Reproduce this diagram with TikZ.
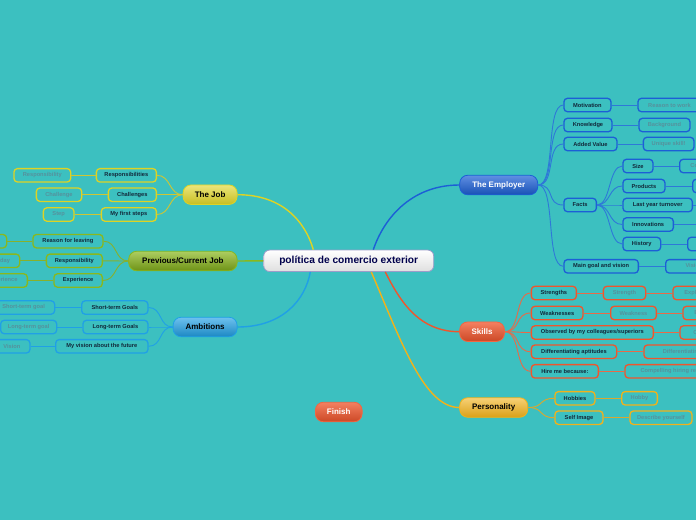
\documentclass[tikz,border=0pt]{standalone}
\usepackage{fontspec}
\setmainfont{Liberation Sans}
\usetikzlibrary{calc}
\definecolor{bg}{HTML}{3CC0C0}
\definecolor{empc}{HTML}{1C5FD6}
\definecolor{empl}{HTML}{2E78D8}
\definecolor{skic}{HTML}{F0552C}
\definecolor{skil}{HTML}{E86A48}
\definecolor{perc}{HTML}{F2B21A}
\definecolor{jobc}{HTML}{DED324}
\definecolor{prevc}{HTML}{8AB81C}
\definecolor{ambc}{HTML}{20A0E6}
\definecolor{leaftext}{HTML}{12283A}
\definecolor{subtext}{HTML}{56919C}
\tikzset{
  leaf/.style={draw, rounded corners=3.5pt, line width=1.3pt, minimum height=13.4pt,
    inner sep=0pt, anchor=west, font=\bfseries\fontsize{5.7}{6.5}\selectfont, text=leaftext},
  sub/.style={leaf, text=subtext},
  mainnode/.style={rounded corners=8pt, minimum height=19.5pt, inner sep=0pt, anchor=west,
    draw, line width=0.8pt, font=\bfseries\fontsize{8}{9.5}\selectfont},
  br/.style={line width=1.4pt},
  ch/.style={line width=0.9pt},
  gl/.style={line width=1pt},
}
\begin{document}
\begin{tikzpicture}[x=1pt,y=-1pt]
\useasboundingbox (0,0) rectangle (696,520);
\fill[bg] (0,0) rectangle (696,520);
\clip (0,0) rectangle (696,520);

% ---------- main nodes ----------
\node[mainnode, rounded corners=6pt, minimum width=170pt, minimum height=21.5pt, top color=white, bottom color=gray!25, draw=blue!30!gray!60, text=blue!30!black, font=\bfseries\fontsize{10.2}{12}\selectfont] (ctr) at (263.3,260.8) {política de comercio exterior};
\node[mainnode, minimum width=78pt, top color=empc!70!white, bottom color=empc!85!black, draw=empc, text=white] (emp) at (459.3,185) {The Employer};
\node[mainnode, minimum width=44.7pt, top color=skic!75!white, bottom color=skic!85!black, draw=skic!90!white, text=white] (ski) at (459.3,331.7) {Skills};
\node[mainnode, minimum width=68pt, top color=perc!60!white, bottom color=perc!90!black, draw=perc, text=black] (per) at (459.3,407.5) {Personality};
\node[mainnode, minimum width=54pt, top color=jobc!60!white, bottom color=jobc!90!black, draw=jobc, text=black] (job) at (182.7,194.7) {The Job};
\node[mainnode, minimum width=108.4pt, top color=prevc!70!white, bottom color=prevc!80!black, draw=prevc, text=black] (prev) at (128.3,261) {Previous/Current Job};
\node[mainnode, minimum width=64pt, top color=ambc!65!white, bottom color=ambc!85!black, draw=ambc, text=black] (amb) at (172.7,327) {Ambitions};
\node[mainnode, minimum width=46.7pt, top color=skic!75!white, bottom color=skic!85!black, draw=skic!90!white, text=white] (fin) at (315,412) {Finish};

% ---------- employer ----------
\begin{scope}[every node/.append style={draw=empc}]
\node[leaf, minimum width=47pt] (mot) at (563.3,105) {Motivation};
\node[leaf, minimum width=48pt] (kno) at (563.3,125) {Knowledge};
\node[leaf, minimum width=53pt] (add) at (563.3,144) {Added Value};
\node[leaf, minimum width=32.4pt] (fac) at (563.3,205) {Facts};
\node[leaf, minimum width=74.4pt] (mgv) at (563.3,266.3) {Main goal and vision};
\node[leaf, minimum width=30pt] (siz) at (622.3,166) {Size};
\node[leaf, minimum width=42pt] (pro) at (622.3,186) {Products};
\node[leaf, minimum width=69.4pt] (lyt) at (622.3,205) {Last year turnover};
\node[leaf, minimum width=50.4pt] (inn) at (622.3,224.5) {Innovations};
\node[leaf, minimum width=37.7pt] (his) at (622.3,244) {History};
\node[sub, minimum width=63pt] (rtw) at (637.3,105) {Reason to work};
\node[sub, minimum width=51pt] (bkg) at (638.3,125) {Background};
\node[sub, minimum width=50.6pt] (usk) at (642.7,144) {Unique skill!};
\node[sub, minimum width=70pt] (vis) at (665,266.3) {Vision/goal};
\node[sub, minimum width=60pt] (sizc) at (679,166) {Company size};
\node[sub, minimum width=50pt] (proc) at (692,186) {Product};
\node[sub, minimum width=50pt] (lytc) at (700,205) {Turnover};
\node[sub, minimum width=50pt] (innc) at (700,224.5) {Innovation};
\node[sub, minimum width=50pt] (hisc) at (687,244) {Story};
\end{scope}
\begin{scope}[draw=empl]
\foreach \n in {mot,kno,add,fac,mgv}
  \draw[ch] (emp.east) .. controls +(18,0) and +(-18,0) .. (\n.west);
\foreach \n in {siz,pro,lyt,inn,his}
  \draw[ch] (fac.east) .. controls +(14,0) and +(-14,0) .. (\n.west);
\foreach \a/\b in {mot/rtw,kno/bkg,add/usk,mgv/vis,siz/sizc,pro/proc,lyt/lytc,inn/innc,his/hisc}
  \draw[gl] (\a.east) -- (\b.west);
\end{scope}

% ---------- skills ----------
\begin{scope}[every node/.append style={draw=skic}]
\node[leaf, minimum width=45pt] (str) at (530.7,293) {Strengths};
\node[leaf, minimum width=51.6pt] (wea) at (530.7,313) {Weaknesses};
\node[leaf, minimum width=122pt] (obs) at (530.7,332.5) {Observed by my colleagues/superiors};
\node[leaf, minimum width=85.3pt] (dif) at (530.7,351.7) {Differentiating aptitudes};
\node[leaf, minimum width=67pt] (hir) at (530.7,371.3) {Hire me because:};
\node[sub, minimum width=42.3pt] (strc) at (602.7,293) {Strength};
\node[sub, minimum width=45.7pt] (weac) at (610,313) {Weakness};
\node[sub, minimum width=55pt] (strd) at (672.3,293) {Explanation};
\node[sub, minimum width=55pt] (wead) at (682.3,313) {Explanation};
\node[sub, minimum width=60pt] (obsc) at (679.3,332.5) {Observation};
\node[sub, minimum width=100pt] (difc) at (643.3,351.7) {Differentiating aptitude};
\node[sub, minimum width=100pt] (hirc) at (624.3,371.3) {Compelling hiring reason};
\end{scope}
\begin{scope}[draw=skil]
\foreach \n in {str,wea,obs,dif,hir}
  \draw[ch] (ski.east) .. controls +(16,0) and +(-16,0) .. (\n.west);
\foreach \a/\b in {str/strc,wea/weac,strc/strd,weac/wead,obs/obsc,dif/difc,hir/hirc}
  \draw[gl] (\a.east) -- (\b.west);
\end{scope}

% ---------- personality ----------
\begin{scope}[every node/.append style={draw=perc}]
\node[leaf, minimum width=40pt] (hob) at (554.3,398.3) {Hobbies};
\node[leaf, minimum width=48pt] (sim) at (554.3,417.7) {Self Image};
\node[sub, minimum width=35.7pt] (hobc) at (621,398.3) {Hobby};
\node[sub, minimum width=62pt] (simc) at (629.3,417.7) {Describe yourself};
\end{scope}
\begin{scope}[draw=perc!80!gray]
\foreach \n in {hob,sim}
  \draw[ch] (per.east) .. controls +(16,0) and +(-16,0) .. (\n.west);
\foreach \a/\b in {hob/hobc,sim/simc}
  \draw[gl] (\a.east) -- (\b.west);
\end{scope}

% ---------- the job ----------
\begin{scope}[every node/.append style={draw=jobc}]
\node[leaf, minimum width=60pt] (res) at (95.7,175.3) {Responsibilities};
\node[leaf, minimum width=48pt] (cha) at (107.7,194.7) {Challenges};
\node[leaf, minimum width=55pt] (mfs) at (100.7,214.5) {My first steps};
\node[sub, minimum width=56.7pt] (resc) at (13.3,175.3) {Responsibility};
\node[sub, minimum width=45.3pt] (chac) at (35.7,194.7) {Challenge};
\node[sub, minimum width=30.6pt] (mfsc) at (42.7,214.5) {Step};
\end{scope}
\begin{scope}[draw=jobc!85!gray]
\foreach \n in {res,cha,mfs}
  \draw[ch] (job.west) .. controls +(-14,0) and +(14,0) .. (\n.east);
\foreach \a/\b in {res/resc,cha/chac,mfs/mfsc}
  \draw[gl] (\a.west) -- (\b.east);
\end{scope}

% ---------- previous job ----------
\begin{scope}[every node/.append style={draw=prevc}]
\node[leaf, minimum width=70pt] (rfl) at (32.3,241.2) {Reason for leaving};
\node[leaf, minimum width=56pt] (pres) at (45.7,260.8) {Responsibility};
\node[leaf, minimum width=48.4pt] (pexp) at (53.3,280.5) {Experience};
\node[sub, minimum width=60pt] (rflc) at (-54,241.2) {Reason};
\node[sub, minimum width=48pt] (presc) at (-29,260.8) {Day to day};
\node[sub, minimum width=50pt] (pexpc) at (-23.3,280.5) {Experience};
\end{scope}
\begin{scope}[draw=prevc!85!gray]
\foreach \n in {rfl,pres,pexp}
  \draw[ch] (prev.west) .. controls +(-14,0) and +(14,0) .. (\n.east);
\foreach \a/\b in {rfl/rflc,pres/presc,pexp/pexpc}
  \draw[gl] (\a.west) -- (\b.east);
\end{scope}

% ---------- ambitions ----------
\begin{scope}[every node/.append style={draw=ambc}]
\node[leaf, minimum width=66.3pt] (stg) at (81,307.5) {Short-term Goals};
\node[leaf, minimum width=65pt] (ltg) at (82.3,327) {Long-term Goals};
\node[leaf, minimum width=92.3pt] (vft) at (55,346.3) {My vision about the future};
\node[sub, minimum width=62pt] (stgc) at (-8,307.5) {Short-term goal};
\node[sub, minimum width=56pt] (ltgc) at (0,327) {Long-term goal};
\node[sub, minimum width=36pt] (vftc) at (-6.7,346.3) {Vision};
\end{scope}
\begin{scope}[draw=ambc]
\foreach \n in {stg,ltg,vft}
  \draw[ch] (amb.west) .. controls +(-14,0) and +(14,0) .. (\n.east);
\foreach \a/\b in {stg/stgc,ltg/ltgc,vft/vftc}
  \draw[gl] (\a.west) -- (\b.east);
\end{scope}

% ---------- branches from centre ----------
\draw[br, draw=jobc] (job.east) .. controls +(45,0) and +(-8,-28) .. ($(ctr.north west)+(50,0)$);
\draw[br, draw=prevc] (prev.east) -- (ctr.west);
\draw[br, draw=ambc] (amb.east) .. controls +(45,0) and +(-5,28) .. ($(ctr.south west)+(47,0)$);
\draw[br, draw=empc] ($(ctr.north west)+(110,0)$) .. controls +(12,-35) and +(-45,0) .. (emp.west);
\draw[br, draw=skic] ($(ctr.south west)+(122,0)$) .. controls +(15,30) and +(-40,0) .. (ski.west);
\draw[br, draw=perc] ($(ctr.south west)+(108,0)$) .. controls +(30,70) and +(-35,0) .. (per.west);
\end{tikzpicture}
\end{document}
